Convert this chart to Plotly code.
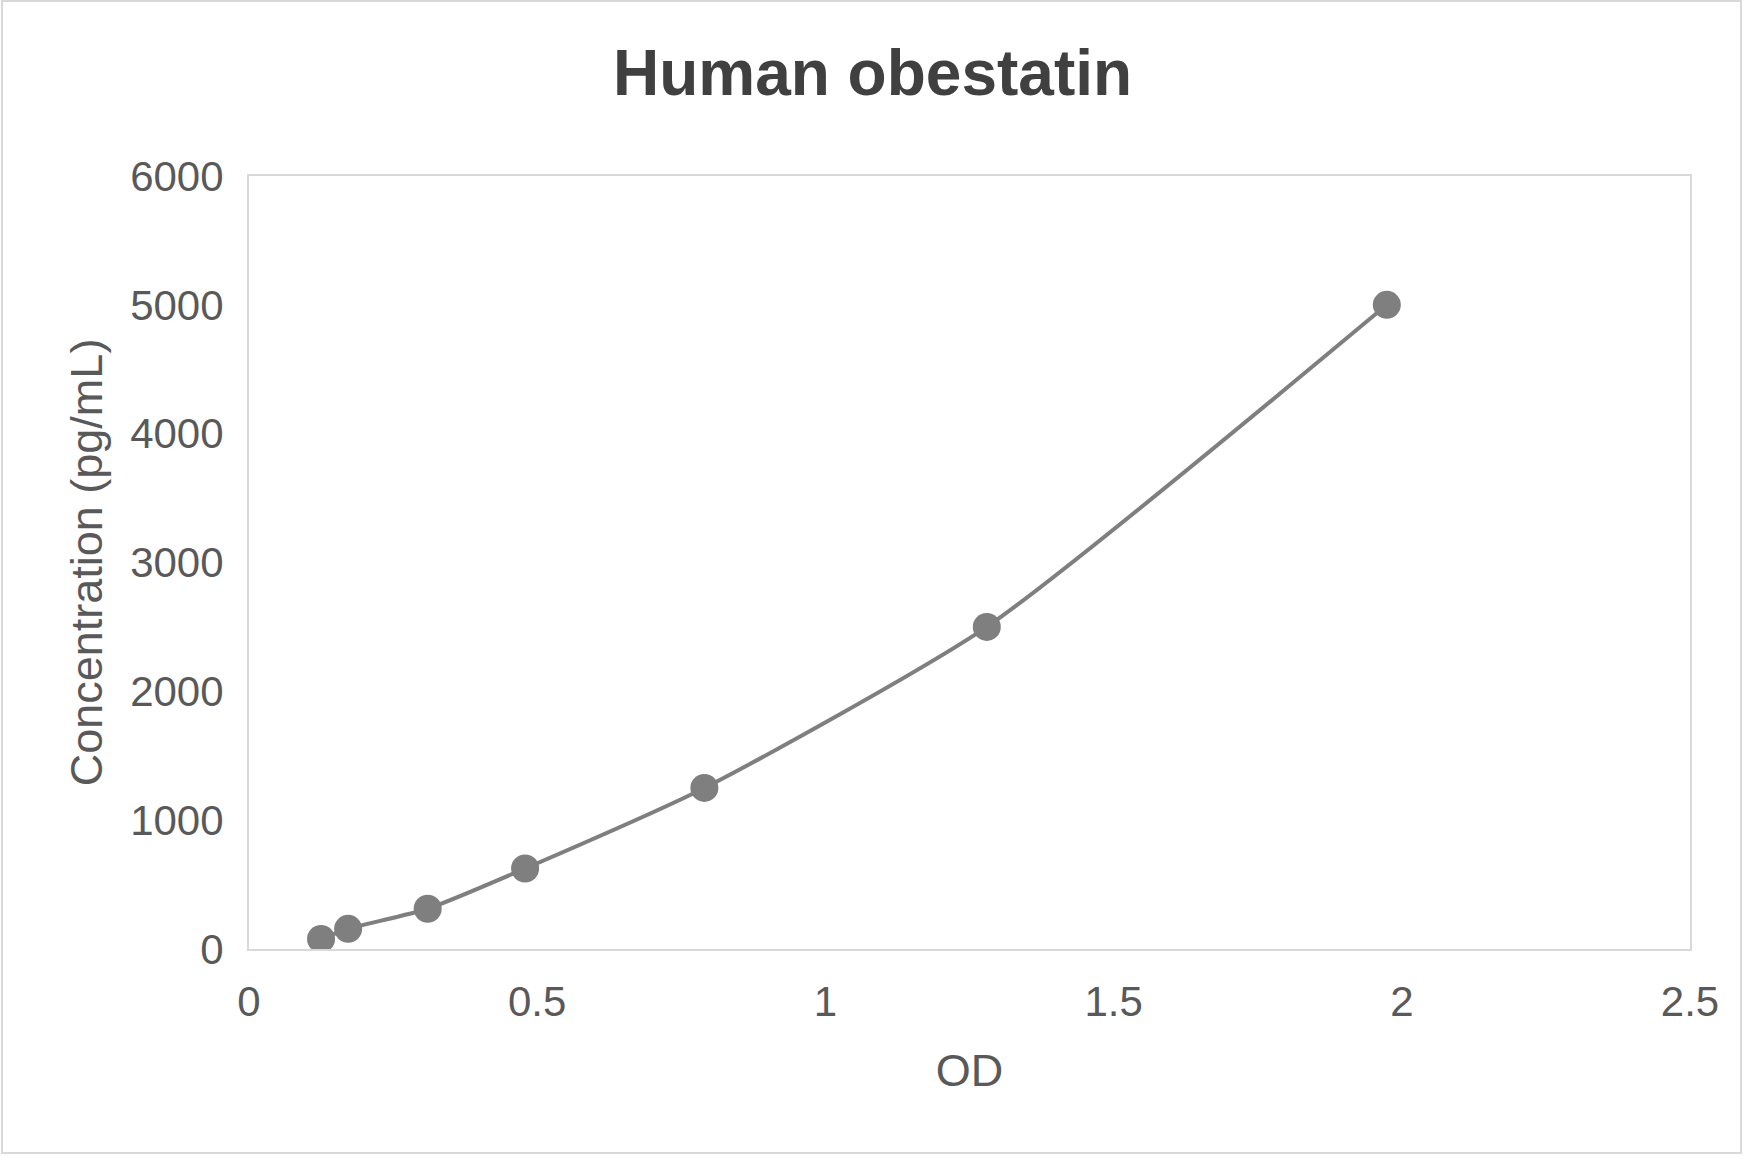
import plotly.graph_objects as go

# standard curve readings
od = [0.125, 0.172, 0.310, 0.479, 0.790, 1.280, 1.974]
concentration = [78.125, 156.25, 312.5, 625, 1250, 2500, 5000]

x_ticks = [0, 0.5, 1, 1.5, 2, 2.5]
x_tick_text = ["0", "0.5", "1", "1.5", "2", "2.5"]
y_ticks = [0, 1000, 2000, 3000, 4000, 5000, 6000]

W, H = 1745, 1157
grey = "#7f7f7f"
label_col = "#595959"
border = "#d9d9d9"

fig = go.Figure()
fig.add_trace(go.Scatter(
    x=od,
    y=concentration,
    mode="lines+markers",
    line=dict(color=grey, width=4, shape="spline", smoothing=0.6),
    marker=dict(color=grey, size=28),
    showlegend=False,
))

fig.update_layout(
    width=W,
    height=H,
    margin=dict(l=249, r=55, t=176, b=208),
    paper_bgcolor="white",
    plot_bgcolor="white",
    font=dict(family="Liberation Sans, Arial", color=label_col),
    title=dict(
        text="<b>Human obestatin</b>",
        font=dict(size=64, color="#404040"),
        x=0.5, xref="container", xanchor="center",
        y=1 - 73 / H, yref="container", yanchor="middle",
    ),
    xaxis=dict(
        range=[0, 2.5],
        tickvals=x_ticks,
        ticktext=x_tick_text,
        tickfont=dict(size=42, color=label_col),
        showgrid=False, zeroline=False,
        showline=True, mirror=True, linecolor=border, linewidth=2,
        ticks="", ticklabelstandoff=15,
        title=dict(text="OD", font=dict(size=45, color=label_col), standoff=30),
    ),
    yaxis=dict(
        range=[0, 6000],
        tickvals=y_ticks,
        tickfont=dict(size=42, color=label_col),
        showgrid=False, zeroline=False,
        showline=True, mirror=True, linecolor=border, linewidth=2,
        ticks="", ticklabelstandoff=15,
        title=dict(text="Concentration (pg/mL)", font=dict(size=45, color=label_col), standoff=13),
    ),
    shapes=[dict(
        type="rect", xref="paper", yref="paper",
        x0=-247 / 1441, x1=(1741 - 249) / 1441,
        y0=-(1153 - 949) / 773, y1=(949 - 1) / 773,
        line=dict(color=border, width=2),
    )],
)

# page edge flush with the window
fig.write_html(
    "out.html",
    config={"displayModeBar": False},
    post_script="document.body.style.margin='0';",
)
